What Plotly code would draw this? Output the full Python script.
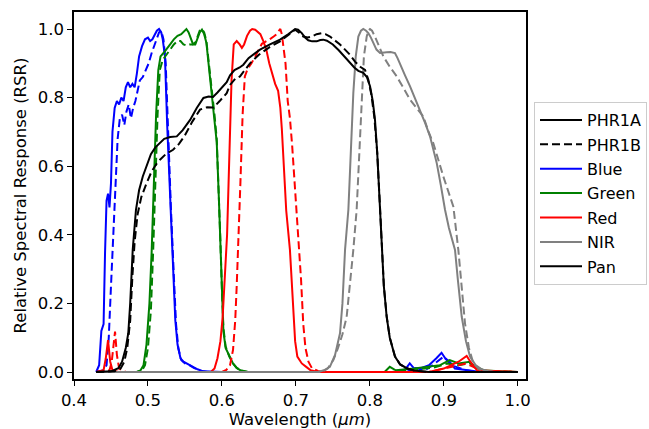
import plotly.graph_objects as go

# ---------------- data ----------------
blue_a_x = [0.430, 0.434, 0.437, 0.440, 0.442, 0.444, 0.446, 0.448, 0.450, 0.452, 0.455, 0.458, 0.461, 0.464,
            0.467, 0.470, 0.473, 0.476, 0.479, 0.482, 0.485, 0.488, 0.492, 0.496, 0.500, 0.503, 0.506, 0.509,
            0.512, 0.515, 0.518, 0.520, 0.523, 0.526, 0.530, 0.534, 0.537, 0.540, 0.544, 0.548, 0.552, 0.556,
            0.561, 0.567, 0.575, 0.600, 0.840, 0.848, 0.854, 0.860, 0.870, 0.880, 0.890, 0.897, 0.902, 0.908,
            0.915, 0.930, 0.950, 1.000]
blue_a_y = [0.0, 0.02, 0.12, 0.14, 0.35, 0.50, 0.52, 0.48, 0.55, 0.70, 0.77, 0.79, 0.78, 0.80,
            0.79, 0.83, 0.845, 0.83, 0.84, 0.83, 0.87, 0.92, 0.95, 0.97, 0.975, 0.965, 0.97, 0.985,
            0.995, 1.0, 0.99, 0.97, 0.92, 0.72, 0.50, 0.30, 0.15, 0.08, 0.04, 0.03, 0.025, 0.02,
            0.016, 0.008, 0.002, 0.0, 0.0, 0.008, 0.025, 0.01, 0.012, 0.02, 0.04, 0.056, 0.04, 0.03,
            0.01, 0.005, 0.0, 0.0]

blue_b_x = [0.430, 0.440, 0.444, 0.447, 0.450, 0.453, 0.456, 0.459, 0.462, 0.465, 0.468, 0.471, 0.474, 0.477,
            0.480, 0.483, 0.486, 0.489, 0.493, 0.497, 0.501, 0.505, 0.509, 0.512, 0.515, 0.518, 0.521, 0.524,
            0.527, 0.531, 0.535, 0.538, 0.541, 0.545, 0.550, 0.556, 0.562, 0.570, 0.580, 0.850, 0.860, 0.875,
            0.885, 0.895, 0.900, 0.910, 0.930, 0.950, 1.000]
blue_b_y = [0.0, 0.005, 0.02, 0.10, 0.25, 0.40, 0.55, 0.68, 0.74, 0.75, 0.72, 0.76, 0.78, 0.74,
            0.77, 0.79, 0.82, 0.85, 0.86, 0.88, 0.90, 0.93, 0.955, 0.97, 0.99, 0.995, 0.97, 0.90,
            0.70, 0.48, 0.28, 0.14, 0.07, 0.035, 0.025, 0.02, 0.012, 0.004, 0.0, 0.0, 0.012, 0.006,
            0.02, 0.035, 0.045, 0.02, 0.005, 0.0, 0.0]

green_a_x = [0.430, 0.485, 0.490, 0.494, 0.498, 0.502, 0.505, 0.508, 0.511, 0.514, 0.517, 0.521, 0.525, 0.530,
             0.535, 0.540, 0.545, 0.549, 0.552, 0.555, 0.558, 0.561, 0.564, 0.567, 0.570, 0.573, 0.576, 0.579,
             0.582, 0.586, 0.590, 0.593, 0.596, 0.598, 0.600, 0.602, 0.605, 0.610, 0.615, 0.620, 0.625, 0.635,
             0.820, 0.827, 0.835, 0.860, 0.880, 0.895, 0.908, 0.920, 0.935, 0.940, 0.950, 1.000]
green_a_y = [0.0, 0.0, 0.005, 0.02, 0.08, 0.20, 0.35, 0.55, 0.75, 0.88, 0.92, 0.93, 0.94, 0.955,
             0.97, 0.98, 0.985, 0.995, 1.0, 0.99, 0.97, 0.955, 0.955, 0.97, 0.99, 0.998, 0.985, 0.96,
             0.90, 0.82, 0.74, 0.67, 0.50, 0.36, 0.22, 0.12, 0.07, 0.045, 0.025, 0.012, 0.005, 0.0,
             0.0, 0.015, 0.005, 0.01, 0.015, 0.02, 0.035, 0.025, 0.03, 0.02, 0.005, 0.0]

green_b_x = [0.430, 0.485, 0.492, 0.496, 0.500, 0.504, 0.507, 0.510, 0.513, 0.516, 0.520, 0.525, 0.530, 0.535,
             0.540, 0.544, 0.548, 0.552, 0.556, 0.560, 0.564, 0.567, 0.570, 0.573, 0.576, 0.579, 0.582, 0.586,
             0.590, 0.593, 0.596, 0.598, 0.600, 0.602, 0.605, 0.610, 0.615, 0.620, 0.625, 0.635, 0.830, 0.860,
             0.885, 0.905, 0.920, 0.935, 0.945, 0.955, 1.000]
green_b_y = [0.0, 0.0, 0.005, 0.02, 0.07, 0.18, 0.35, 0.55, 0.75, 0.88, 0.91, 0.925, 0.94, 0.955,
             0.965, 0.965, 0.955, 0.952, 0.955, 0.955, 0.96, 0.98, 0.995, 1.0, 0.99, 0.965, 0.91, 0.83,
             0.75, 0.68, 0.52, 0.38, 0.24, 0.13, 0.075, 0.045, 0.025, 0.012, 0.005, 0.0, 0.0, 0.008,
             0.012, 0.025, 0.02, 0.025, 0.015, 0.003, 0.0]

red_a_x = [0.430, 0.440, 0.443, 0.446, 0.449, 0.452, 0.460, 0.585, 0.590, 0.594, 0.598, 0.601, 0.604, 0.607,
           0.609, 0.611, 0.613, 0.616, 0.620, 0.624, 0.627, 0.630, 0.634, 0.638, 0.641, 0.645, 0.648, 0.652,
           0.656, 0.660, 0.664, 0.668, 0.672, 0.676, 0.679, 0.681, 0.684, 0.687, 0.692, 0.696, 0.699, 0.702,
           0.708, 0.714, 0.720, 0.730, 0.880, 0.900, 0.920, 0.931, 0.936, 0.945, 1.000]
red_a_y = [0.0, 0.005, 0.04, 0.093, 0.03, 0.005, 0.0, 0.0, 0.01, 0.04, 0.09, 0.16, 0.28, 0.40,
           0.55, 0.72, 0.85, 0.955, 0.965, 0.955, 0.945, 0.955, 0.98, 0.995, 1.0, 0.998, 0.993, 0.985,
           0.965, 0.94, 0.90, 0.87, 0.84, 0.82, 0.77, 0.71, 0.60, 0.47, 0.356, 0.20, 0.09, 0.045,
           0.025, 0.015, 0.005, 0.0, 0.0, 0.01, 0.03, 0.047, 0.03, 0.005, 0.0]

red_b_x = [0.430, 0.448, 0.451, 0.4555, 0.458, 0.461, 0.470, 0.600, 0.606, 0.611, 0.615, 0.618, 0.620, 0.622,
           0.625, 0.628, 0.631, 0.635, 0.640, 0.645, 0.650, 0.654, 0.658, 0.662, 0.666, 0.670, 0.674, 0.677,
           0.679, 0.681, 0.683, 0.686, 0.689, 0.692, 0.695, 0.698, 0.701, 0.704, 0.707, 0.710, 0.713, 0.717,
           0.722, 0.730, 0.740, 0.880, 0.900, 0.920, 0.930, 0.940, 0.950, 1.000]
red_b_y = [0.0, 0.005, 0.03, 0.118, 0.05, 0.01, 0.0, 0.0, 0.006, 0.02, 0.064, 0.15, 0.25, 0.356,
           0.55, 0.75, 0.862, 0.885, 0.90, 0.92, 0.94, 0.957, 0.962, 0.966, 0.972, 0.978, 0.985, 0.995,
           1.0, 0.985, 0.955, 0.90, 0.79, 0.74, 0.66, 0.56, 0.47, 0.39, 0.27, 0.14, 0.07, 0.03,
           0.01, 0.003, 0.0, 0.0, 0.01, 0.02, 0.025, 0.015, 0.003, 0.0]

nir_a_x = [0.430, 0.730, 0.738, 0.746, 0.753, 0.7597, 0.763, 0.7665, 0.771, 0.774, 0.7777, 0.781, 0.7845, 0.788,
           0.7912, 0.795, 0.798, 0.8015, 0.8048, 0.809, 0.8138, 0.818, 0.8228, 0.828, 0.834, 0.8375, 0.8408,
           0.8476, 0.8544, 0.861, 0.8679, 0.875, 0.8814, 0.8905, 0.896, 0.9017, 0.907, 0.911, 0.9152, 0.919,
           0.9243, 0.930, 0.9355, 0.943, 0.9513, 0.960, 0.970, 1.000]
nir_a_y = [0.0, 0.0, 0.005, 0.015, 0.05, 0.113, 0.2, 0.356, 0.473, 0.62, 0.813, 0.92, 0.978, 0.995,
           1.0, 0.995, 0.988, 0.975, 0.959, 0.94, 0.93, 0.93, 0.932, 0.933, 0.93, 0.915, 0.90,
           0.865, 0.833, 0.80, 0.765, 0.725, 0.687, 0.609, 0.545, 0.473, 0.42, 0.39, 0.356, 0.27,
           0.161, 0.09, 0.045, 0.02, 0.008, 0.002, 0.0, 0.0]

nir_b_x = [0.430, 0.735, 0.743, 0.7507, 0.757, 0.763, 0.7687, 0.773, 0.7777, 0.7822, 0.786, 0.789, 0.792, 0.7958,
           0.798, 0.8003, 0.803, 0.807, 0.812, 0.8183, 0.827, 0.8363, 0.845, 0.8544, 0.863, 0.8724, 0.8795,
           0.8859, 0.8994, 0.906, 0.913, 0.9197, 0.9245, 0.9287, 0.934, 0.940, 0.948, 0.960, 0.970, 1.000]
nir_b_y = [0.0, 0.0, 0.01, 0.035, 0.07, 0.11, 0.161, 0.25, 0.356, 0.473, 0.66, 0.813, 0.92, 0.978,
           0.995, 1.0, 0.995, 0.978, 0.95, 0.92, 0.89, 0.862, 0.83, 0.794, 0.77, 0.745, 0.70,
           0.667, 0.57, 0.53, 0.482, 0.356, 0.24, 0.142, 0.07, 0.025, 0.008, 0.002, 0.0, 0.0]

pan_a_x = [0.430, 0.450, 0.460, 0.465, 0.470, 0.4734, 0.476, 0.4794, 0.4838, 0.488, 0.493, 0.498, 0.504, 0.510,
           0.516, 0.522, 0.530, 0.539, 0.547, 0.557, 0.566, 0.575, 0.582, 0.588, 0.594, 0.600, 0.6065, 0.611,
           0.617, 0.624, 0.629, 0.636, 0.6515, 0.665, 0.6786, 0.690, 0.699, 0.703, 0.708, 0.7125, 0.7168,
           0.722, 0.7282, 0.733, 0.7371, 0.742, 0.7462, 0.750, 0.758, 0.766, 0.7732, 0.779, 0.7845, 0.7912,
           0.796, 0.8003, 0.804, 0.807, 0.810, 0.8138, 0.816, 0.819, 0.8228, 0.827, 0.834, 0.841, 0.850,
           0.860, 0.880, 1.000]
pan_a_y = [0.0, 0.002, 0.011, 0.03, 0.07, 0.113, 0.2, 0.356, 0.473, 0.53, 0.57, 0.60, 0.635, 0.655,
           0.667, 0.68, 0.685, 0.687, 0.705, 0.735, 0.77, 0.799, 0.803, 0.802, 0.815, 0.83, 0.845, 0.865,
           0.88, 0.888, 0.896, 0.915, 0.94, 0.955, 0.969, 0.985, 1.0, 0.998, 0.988, 0.975, 0.967,
           0.964, 0.964, 0.968, 0.969, 0.966, 0.96, 0.955, 0.938, 0.918, 0.90, 0.888, 0.878, 0.872,
           0.86, 0.833, 0.79, 0.735, 0.64, 0.473, 0.356, 0.25, 0.161, 0.10, 0.045, 0.022, 0.011,
           0.004, 0.0, 0.0]

pan_b_x = [0.430, 0.455, 0.463, 0.468, 0.472, 0.476, 0.479, 0.482, 0.486, 0.491, 0.498, 0.505, 0.511, 0.5163,
           0.524, 0.534, 0.542, 0.550, 0.560, 0.5704, 0.580, 0.5884, 0.597, 0.6065, 0.611, 0.618, 0.6245,
           0.638, 0.650, 0.665, 0.6786, 0.690, 0.699, 0.704, 0.710, 0.716, 0.7213, 0.728, 0.735, 0.740,
           0.7462, 0.752, 0.7597, 0.7732, 0.780, 0.787, 0.7935, 0.798, 0.802, 0.806, 0.810, 0.8138, 0.816,
           0.819, 0.8228, 0.827, 0.834, 0.841, 0.850, 0.860, 0.880, 1.000]
pan_b_y = [0.0, 0.002, 0.01, 0.03, 0.07, 0.15, 0.28, 0.38, 0.46, 0.51, 0.55, 0.585, 0.605, 0.619,
           0.635, 0.648, 0.665, 0.69, 0.73, 0.765, 0.772, 0.771, 0.79, 0.813, 0.837, 0.855, 0.862,
           0.90, 0.925, 0.948, 0.964, 0.982, 0.998, 0.99, 0.978, 0.975, 0.978, 0.985, 0.988, 0.985,
           0.978, 0.968, 0.955, 0.925, 0.905, 0.89, 0.881, 0.852, 0.81, 0.745, 0.64, 0.48, 0.36,
           0.25, 0.163, 0.10, 0.046, 0.022, 0.011, 0.004, 0.0, 0.0]

band_names = ["Blue", "Green", "Red", "NIR", "Pan"]
band_colors = ["#0000ff", "#008000", "#ff0000", "#808080", "#000000"]
sensor_names = ["PHR1A", "PHR1B"]
x_ticks = [0.4, 0.5, 0.6, 0.7, 0.8, 0.9, 1.0]
y_ticks = [0.0, 0.2, 0.4, 0.6, 0.8, 1.0]

curves_a = [(blue_a_x, blue_a_y), (green_a_x, green_a_y), (red_a_x, red_a_y), (nir_a_x, nir_a_y), (pan_a_x, pan_a_y)]
curves_b = [(blue_b_x, blue_b_y), (green_b_x, green_b_y), (red_b_x, red_b_y), (nir_b_x, nir_b_y), (pan_b_x, pan_b_y)]

FONT = "DejaVu Sans"
FS = 16.5
LW = 2
DASH = "8px,4px"

fig = go.Figure()

# legend-only entries for the two sensors
fig.add_trace(go.Scatter(x=[None], y=[None], mode="lines", name=sensor_names[0],
                         line=dict(color="black", width=LW), legendgroup="s0", legendrank=1))
fig.add_trace(go.Scatter(x=[None], y=[None], mode="lines", name=sensor_names[1],
                         line=dict(color="black", width=LW, dash=DASH), legendgroup="s1", legendrank=2))

for i, (name, col) in enumerate(zip(band_names, band_colors)):
    xa, ya = curves_a[i]
    xb, yb = curves_b[i]
    fig.add_trace(go.Scatter(x=xa, y=ya, mode="lines", name=name,
                             line=dict(color=col, width=LW), legendgroup="b%d" % i,
                             legendrank=3 + i, showlegend=True))
    fig.add_trace(go.Scatter(x=xb, y=yb, mode="lines", name=name + " (PHR1B)",
                             line=dict(color=col, width=LW, dash=DASH), legendgroup="b%d" % i,
                             showlegend=False))

axis_common = dict(showline=True, linecolor="black", linewidth=1.5, mirror=True,
                   ticks="outside", ticklen=5, tickwidth=1.2, tickcolor="black",
                   showgrid=False, zeroline=False, automargin=False,
                   tickfont=dict(family=FONT, size=FS, color="black"))

fig.update_layout(
    width=649, height=429,
    margin=dict(l=74, r=123, t=12, b=50, autoexpand=False),
    plot_bgcolor="white", paper_bgcolor="white",
    font=dict(family=FONT, size=FS, color="black"),
    xaxis=dict(range=[0.4, 1.0112], tickvals=x_ticks, ticktext=["%.1f" % v for v in x_ticks],
               title=dict(text="Wavelength (<i>μm</i>)", font=dict(family=FONT, size=FS), standoff=4),
               **axis_common),
    yaxis=dict(range=[-0.0204, 1.0496], tickvals=y_ticks, ticktext=["%.1f" % v for v in y_ticks],
               title=dict(text="Relative Spectral Response (RSR)", font=dict(family=FONT, size=FS), standoff=7),
               **axis_common),
    legend=dict(xref="container", yref="container", x=534 / 649, y=1 - 102 / 429,
                xanchor="left", yanchor="top",
                bordercolor="#cccccc", borderwidth=1, bgcolor="white",
                font=dict(family=FONT, size=16), traceorder="grouped", tracegroupgap=0.6,
                itemwidth=42),
    showlegend=True,
)

fig.write_html("out.html")
